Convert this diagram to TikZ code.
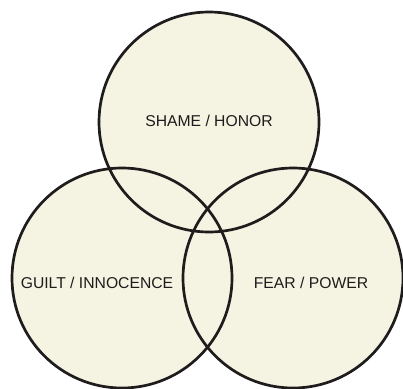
\documentclass[tikz,border=0pt]{standalone}
\usepackage{fontspec}
\setmainfont{Liberation Sans}
\usepackage{xcolor}
\usetikzlibrary{backgrounds}
\definecolor{paper}{RGB}{245,243,225}
\definecolor{ink}{RGB}{30,28,28}
\tikzset{ring/.style={circle, draw=ink, line width=2.7pt, minimum size=220pt, inner sep=0pt},
         tag/.style={font=\fontsize{15.7}{18}\selectfont, text=ink}}

\begin{document}
\begin{tikzpicture}[x=1pt, y=-1pt]
\useasboundingbox (0,0) rectangle (403,388);
% circles
\node[ring] (shame) at (209,122) {};
\node[ring] (guilt) at (122,278) {};
\node[ring] (fear) at (293,278) {};
\begin{scope}[on background layer]
\fill[paper] (shame.center) circle (110pt);
\fill[paper] (guilt.center) circle (110pt);
\fill[paper] (fear.center) circle (110pt);
\end{scope}
% labels
\node[tag] (shamelabel) at (209,121) {SHAME / HONOR};
\node[tag] (guiltlabel) at (97,283) {GUILT / INNOCENCE};
\node[tag] (fearlabel) at (311,283) {FEAR / POWER};
\end{tikzpicture}
\end{document}
